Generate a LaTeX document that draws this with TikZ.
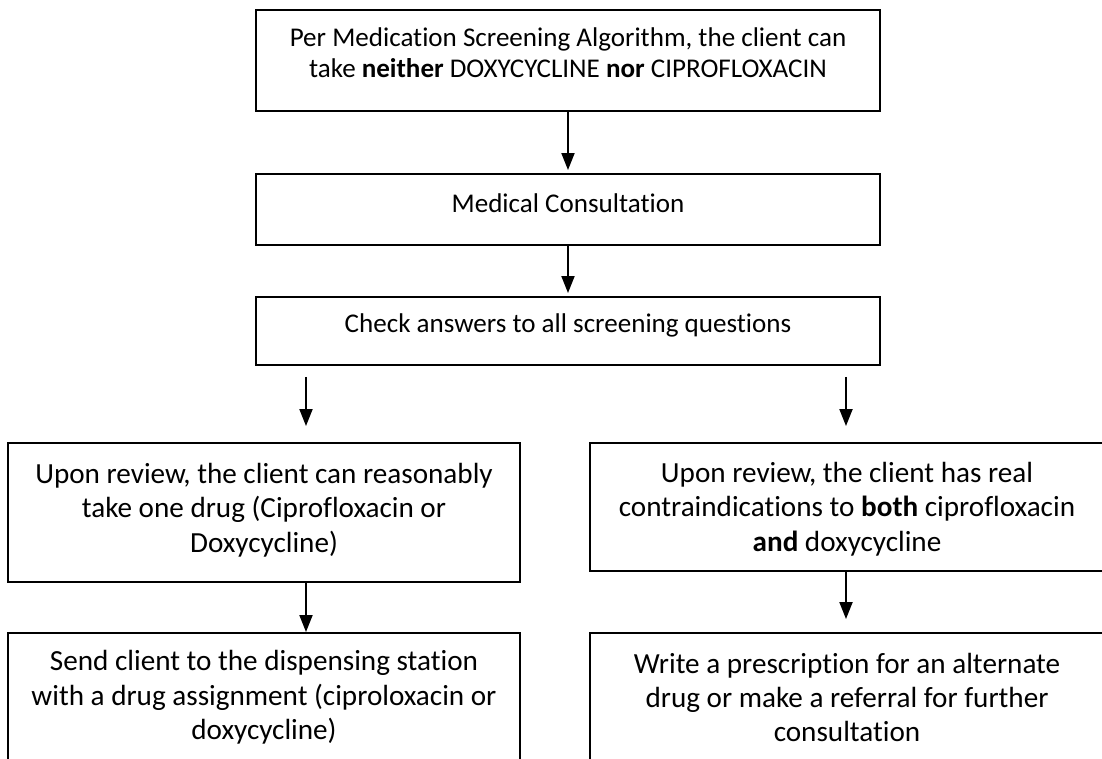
\documentclass[tikz,border=0pt]{standalone}
\usepackage{fontspec}
\setmainfont{Carlito}[Ligatures=NoCommon]
\usetikzlibrary{arrows.meta}

\begin{document}
\begin{tikzpicture}[x=0.02cm, y=-0.02cm,
  box/.style={draw, line width=1.1pt, inner sep=0pt},
  txt/.style={inner sep=0pt, align=center,
    font=\fontsize{16.6pt}{19.6pt}\selectfont},
  toptxt/.style={txt, font=\fontsize{15.4pt}{17.6pt}\selectfont},
  arr/.style={line width=1.1pt, -{Triangle[length=0.34cm, width=0.26cm]}}]
\path[use as bounding box, clip] (0,0) rectangle (1102,759);

\node[box, minimum width=12.48cm, minimum height=2.02cm] (screen) at (568,60.5) {};
\node[box, minimum width=12.48cm, minimum height=1.42cm] (consult) at (568,209.5) {};
\node[box, minimum width=12.48cm, minimum height=1.36cm] (check) at (568,331) {};
\node[box, minimum width=10.24cm, minimum height=2.78cm] (upon) at (264,512.5) {};
\node[box, minimum width=10.28cm, minimum height=2.56cm] (contra) at (847,507) {};
\node[box, minimum width=10.24cm, minimum height=2.6cm] (send) at (264,698) {};
\node[box, minimum width=10.28cm, minimum height=2.6cm] (write) at (847,698) {};

\node[toptxt] (screentxt) at (568,53)
  {Per Medication Screening Algorithm, the client can\\
   take \textbf{neither} DOXYCYCLINE \textbf{nor} CIPROFLOXACIN};
\node[toptxt] (consulttxt) at (568,203) {Medical Consultation};
\node[toptxt] (checktxt) at (568,325) {Check answers to all screening questions};
\node[txt] (upontxt) at (264,510)
  {Upon review, the client can reasonably\\
   take one drug (Ciprofloxacin or\\
   Doxycycline)};
\node[txt] (contratxt) at (847,509)
  {Upon review, the client has real\\
   contraindications to \textbf{both} ciprofloxacin\\
   \textbf{and} doxycycline};
\node[txt] (sendtxt) at (264,697.5)
  {Send client to the dispensing station\\
   with a drug assignment (ciproloxacin or\\
   doxycycline)};
\node[txt] (writetxt) at (847,697.5)
  {Write a prescription for an alternate\\
   drug or make a referral for further\\
   consultation};

\coordinate (lsplit) at (306,377);
\coordinate (rsplit) at (846,377);

\foreach \from/\to in {screen/consult, consult/check}
  \draw[arr, shorten >=0.06cm] (\from) -- (\to);

\draw[arr, shorten >=0.32cm] (lsplit) -- (lsplit |- upon.north);
\draw[arr, shorten >=0.32cm] (rsplit) -- (rsplit |- contra.north);
\draw[arr] (lsplit |- upon.south) -- (lsplit |- send.north);
\draw[arr, shorten >=0.26cm] (rsplit |- contra.south) -- (rsplit |- write.north);

\end{tikzpicture}
\end{document}
